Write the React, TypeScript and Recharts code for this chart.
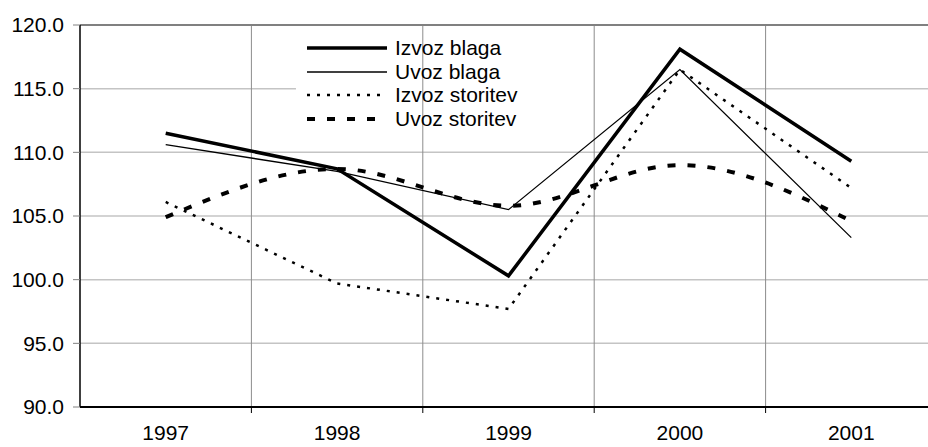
import React from "react";
import {
  LineChart,
  Line,
  XAxis,
  YAxis,
  CartesianGrid,
  ReferenceLine,
  ReferenceArea,
} from "recharts";

// categories and series values
const years = ["1997", "1998", "1999", "2000", "2001"];
const izvozBlaga = [111.5, 108.7, 100.3, 118.1, 109.3];
const uvozBlaga = [110.6, 108.5, 105.5, 116.5, 103.3];
const izvozStoritev = [106.1, 99.7, 97.7, 116.5, 107.2];
const uvozStoritev = [104.9, 108.7, 105.8, 109.0, 104.6];
const yTicks = [90, 95, 100, 105, 110, 115, 120];

// category centres get labels, band edges get tick marks / vertical grid
const bandEdges = [0.5, 1.5, 2.5, 3.5];
const xTicks = [0, 0.5, 1, 1.5, 2, 2.5, 3, 3.5, 4];

const FONT = "'Liberation Sans', Arial, sans-serif";

const series = [
  { key: "izvozBlaga", name: "Izvoz blaga", width: 3.5, dash: undefined, type: "linear" },
  { key: "uvozBlaga", name: "Uvoz blaga", width: 1.3, dash: undefined, type: "linear" },
  { key: "izvozStoritev", name: "Izvoz storitev", width: 2.5, dash: "3 7", type: "linear" },
  { key: "uvozStoritev", name: "Uvoz storitev", width: 4, dash: "8 12", type: "monotone" },
] as const;

const data = years.map((y, i) => ({
  idx: i,
  year: y,
  izvozBlaga: izvozBlaga[i],
  uvozBlaga: uvozBlaga[i],
  izvozStoritev: izvozStoritev[i],
  uvozStoritev: uvozStoritev[i],
}));

function XTick(props: any) {
  const { x, y, payload } = props;
  const v = payload.value as number;
  if (Number.isInteger(v)) {
    return (
      <text x={x} y={y} dy={33} textAnchor="middle" fontSize={21} fontFamily={FONT} fill="#000">
        {years[v]}
      </text>
    );
  }
  return <line x1={x} x2={x} y1={y} y2={y + 6} stroke="#000" strokeWidth={1} />;
}

function ChartLegend() {
  return (
    <div
      style={{
        position: "absolute",
        left: 306,
        top: 36,
        fontFamily: FONT,
        fontSize: 21,
        color: "#000",
      }}
    >
      {series.map((s) => (
        <div key={s.key} style={{ display: "flex", alignItems: "center", height: 23.7 }}>
          <svg width={82} height={10} style={{ marginRight: 7 }}>
            <line
              x1={1}
              x2={81}
              y1={5}
              y2={5}
              stroke="#000"
              strokeWidth={s.width}
              strokeDasharray={s.dash}
            />
          </svg>
          <span style={{ lineHeight: "23.7px" }}>{s.name}</span>
        </div>
      ))}
    </div>
  );
}

export default function App() {
  return (
    <div
      style={{
        position: "fixed",
        left: 0,
        top: 0,
        width: 928,
        height: 447,
        overflow: "hidden",
        background: "#fff",
      }}
    >
      <LineChart
        width={960}
        height={447}
        data={data}
        margin={{ top: 25, right: 23, bottom: 0, left: 0 }}
      >
        <CartesianGrid vertical={false} stroke="#c4c4c4" strokeWidth={1.5} />
        {bandEdges.map((e) => (
          <ReferenceLine key={e} x={e} stroke="#8c8c8c" strokeWidth={1} />
        ))}
        <ReferenceLine y={120} stroke="#808080" strokeWidth={2} />
        {/* white backdrop behind the legend */}
        <ReferenceArea
          x1={0.76}
          x2={3.37}
          y1={111.2}
          y2={119.3}
          fill="#fff"
          fillOpacity={1}
          stroke="none"
        />
        <XAxis
          dataKey="idx"
          type="number"
          domain={[-0.5, 4.5]}
          ticks={xTicks}
          interval={0}
          height={40}
          tickLine={false}
          tickSize={0}
          tickMargin={0}
          axisLine={{ stroke: "#000", strokeWidth: 2 }}
          tick={<XTick />}
        />
        <YAxis
          domain={[90, 120]}
          ticks={yTicks}
          width={80}
          tickSize={7}
          tickMargin={9}
          tickFormatter={(v: number) => v.toFixed(1)}
          tick={{ fill: "#000", fontSize: 21, fontFamily: FONT }}
          tickLine={{ stroke: "#808080" }}
          axisLine={{ stroke: "#000", strokeWidth: 1.5 }}
        />
        {series.map((s) => (
          <Line
            key={s.key}
            type={s.type}
            dataKey={s.key}
            name={s.name}
            stroke="#000"
            strokeWidth={s.width}
            strokeDasharray={s.dash}
            dot={false}
            activeDot={false}
            isAnimationActive={false}
          />
        ))}
      </LineChart>
      <ChartLegend />
    </div>
  );
}
